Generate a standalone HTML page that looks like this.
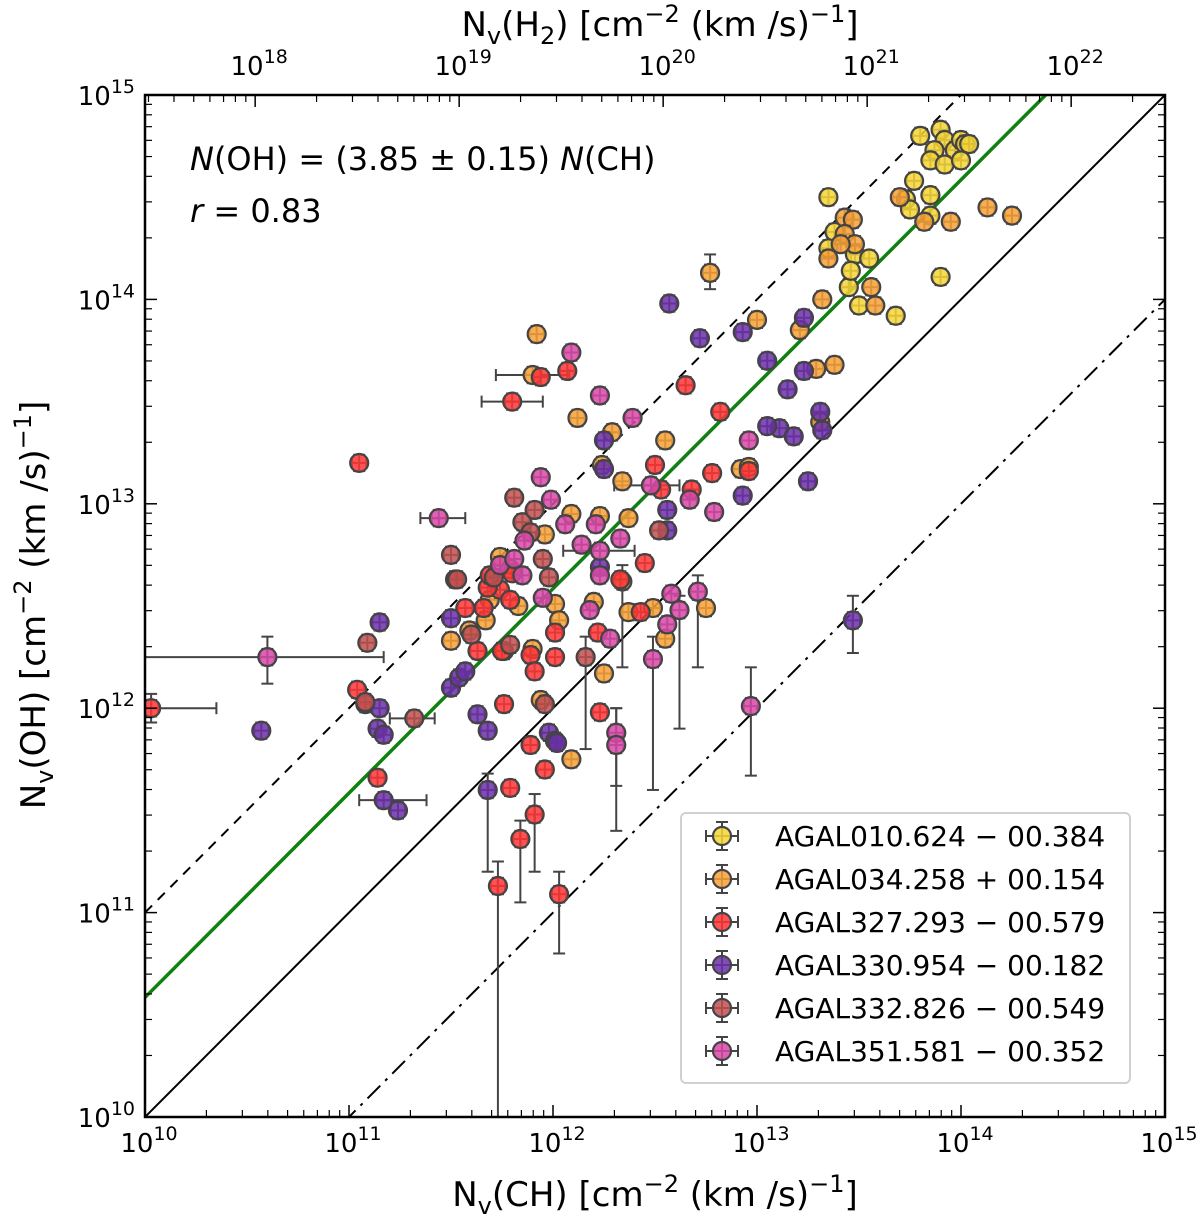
<!DOCTYPE html>
<html><head><meta charset="utf-8"><style>
html,body{margin:0;background:#fff;width:1200px;height:1221px;overflow:hidden}
svg{display:block;font-family:"DejaVu Sans","Liberation Sans",sans-serif}
</style></head><body>
<svg id="chart" width="1200" height="1221" viewBox="0 0 1200 1221" xmlns="http://www.w3.org/2000/svg">
<g id="grid"></g>
<g id="lines"></g>
<g id="pts"></g>
<g id="axes"></g>
<text x="190" y="170" font-size="32"><tspan font-style="italic">N</tspan>(OH) = (3.85 ± 0.15) <tspan font-style="italic">N</tspan>(CH)</text>
<text x="190" y="222" font-size="32"><tspan font-style="italic">r</tspan> = 0.83</text>
<text x="655" y="1206" font-size="34" text-anchor="middle">N<tspan font-size="24" dy="8">v</tspan><tspan dy="-8">(CH) [cm</tspan><tspan font-size="24" dy="-14">−2</tspan><tspan dy="14"> (km /s)</tspan><tspan font-size="24" dy="-14">−1</tspan><tspan dy="14">]</tspan></text>
<text x="660" y="36" font-size="34" text-anchor="middle">N<tspan font-size="24" dy="8">v</tspan><tspan dy="-8">(H</tspan><tspan font-size="24" dy="8">2</tspan><tspan dy="-8">) [cm</tspan><tspan font-size="24" dy="-14">−2</tspan><tspan dy="14"> (km /s)</tspan><tspan font-size="24" dy="-14">−1</tspan><tspan dy="14">]</tspan></text>
<text transform="translate(45,605) rotate(-90)" font-size="34" text-anchor="middle">N<tspan font-size="24" dy="8">v</tspan><tspan dy="-8">(OH) [cm</tspan><tspan font-size="24" dy="-14">−2</tspan><tspan dy="14"> (km /s)</tspan><tspan font-size="24" dy="-14">−1</tspan><tspan dy="14">]</tspan></text>
<g id="legend"></g>
</svg>
<script>
const NS="http://www.w3.org/2000/svg";
const seriesNames=["AGAL010.624−00.384","AGAL034.258+00.154","AGAL327.293−00.579","AGAL330.954−00.182","AGAL332.826−00.549","AGAL351.581−00.352"];
const seriesColors=["#f5d535","#f7a035","#ff3535","#6a2fa8","#c05050","#d848a8"];
const yellowPts=[[13.90,14.83],[13.92,14.78],[13.87,14.73],[13.97,14.73],[13.80,14.80],[14.00,14.78],[13.85,14.68],[13.92,14.66],[14.02,14.76],[14.04,14.76],[14.00,14.68],[13.77,14.58],[13.85,14.51],[13.73,14.49],[13.75,14.44],[13.85,14.41],[13.35,14.50],[13.38,14.33],[13.35,14.25],[13.48,14.22],[13.55,14.20],[13.45,14.06],[13.50,13.97],[13.68,13.92],[13.90,14.11],[13.46,14.14]];
const orangePts=[[13.70,14.50],[13.82,14.38],[13.95,14.38],[14.13,14.45],[14.25,14.41],[13.43,14.40],[13.47,14.39],[13.43,14.32],[13.48,14.27],[13.41,14.27],[13.35,14.20],[13.56,14.06],[13.58,13.97],[12.77,14.13],[13.00,13.90],[13.32,14.00],[13.21,13.85],[13.29,13.66],[13.38,13.68],[13.31,13.40],[11.92,13.83],[11.90,13.63],[12.12,13.42],[12.29,13.35],[12.55,13.31],[12.92,13.17],[12.96,13.18],[12.24,13.19],[12.34,13.11],[12.09,12.95],[12.23,12.94],[12.37,12.93],[11.96,12.85],[12.34,12.62],[11.74,12.74],[11.79,12.68],[11.69,12.53],[11.67,12.43],[11.59,12.38],[11.50,12.33],[11.90,12.29],[12.01,12.51],[11.76,12.28],[11.94,12.04],[12.01,11.84],[12.09,11.75],[11.83,12.50],[12.25,12.17],[12.20,12.52],[12.75,12.49],[12.49,12.49],[12.55,12.34],[12.37,12.47],[12.03,12.43]];
const redPts=[[11.05,13.20],[11.04,12.09],[11.08,12.02],[11.14,11.66],[11.80,13.50],[12.07,13.65],[11.94,13.62],[12.65,13.58],[12.82,13.45],[12.50,13.19],[12.78,13.15],[12.96,13.16],[12.68,13.07],[12.53,13.07],[12.45,12.71],[11.80,12.66],[11.74,12.58],[11.68,12.59],[11.66,12.49],[11.57,12.49],[11.63,12.28],[11.75,12.28],[11.79,12.53],[11.69,12.65],[11.52,12.63],[11.76,12.02],[11.89,12.26],[12.01,12.25],[11.91,12.18],[12.01,12.37],[12.22,12.37],[12.33,12.63],[12.43,12.47],[12.23,11.98],[11.89,11.82],[11.79,11.61],[11.91,11.48],[11.73,11.13],[11.96,11.70],[12.03,11.09],[11.84,11.36],[10.03,12.00]];
const purplePts=[[11.15,12.42],[11.15,12.00],[11.14,11.90],[11.17,11.87],[11.17,11.55],[11.24,11.50],[10.57,11.89],[11.50,12.10],[11.54,12.15],[11.57,12.18],[11.63,11.97],[11.68,11.89],[11.98,11.88],[12.01,11.84],[12.02,11.83],[11.68,11.60],[11.50,12.44],[12.57,13.98],[12.72,13.81],[12.93,13.84],[13.05,13.70],[13.23,13.91],[13.23,13.65],[13.15,13.56],[13.11,13.37],[13.05,13.38],[13.18,13.33],[13.31,13.45],[13.32,13.36],[13.25,13.11],[12.93,13.04],[12.25,13.31],[12.25,13.17],[12.56,12.97],[12.56,12.87],[12.23,12.69],[13.47,12.43]];
const brownPts=[[11.09,12.32],[11.08,12.03],[11.50,12.75],[11.53,12.63],[11.81,13.03],[11.85,12.91],[11.89,12.86],[11.91,12.97],[11.95,12.73],[11.98,12.64],[11.71,12.64],[11.60,12.36],[11.79,12.31],[12.16,12.25],[11.96,12.02],[11.32,11.95],[12.52,12.87]];
const magentaPts=[[10.60,12.25],[11.44,12.93],[11.94,13.13],[11.99,13.02],[12.09,13.74],[12.23,13.53],[12.39,13.42],[12.67,13.02],[12.79,12.96],[12.96,13.31],[12.48,13.09],[12.06,12.90],[12.21,12.90],[12.14,12.80],[12.23,12.77],[11.86,12.82],[11.74,12.70],[11.81,12.73],[11.85,12.65],[11.95,12.54],[12.33,12.83],[12.23,12.65],[12.18,12.48],[12.28,12.34],[12.31,11.88],[12.31,11.82],[12.49,12.24],[12.56,12.41],[12.58,12.56],[12.62,12.48],[12.71,12.57],[12.97,12.01]];
const allSeries=[yellowPts,orangePts,redPts,purplePts,brownPts,magentaPts];
// large error bars: [series, x, y, xlo, xhi, ylo, yhi]
const bigErr=[[2,10.03,12.00,10.03,10.35,11.93,12.07],[5,10.60,12.25,10.0,11.17,12.12,12.35],[2,11.73,11.13,11.73,11.73,10.0,11.25],[5,12.97,12.01,12.97,12.97,11.67,12.20],[3,13.47,12.43,13.47,13.47,12.27,12.55],[5,12.31,11.88,12.31,12.31,11.62,12.00],[5,12.31,11.82,12.31,12.31,11.40,12.00],[2,12.03,11.09,12.03,12.03,10.80,11.2],[4,12.16,12.25,12.16,12.16,11.8,12.35],[3,11.68,11.60,11.68,11.68,11.2,11.68],[2,11.84,11.36,11.84,11.84,11.05,11.45],[2,11.91,11.48,11.91,11.91,11.2,11.58],[5,12.62,12.48,12.62,12.62,11.9,12.55],[5,12.71,12.57,12.71,12.71,12.2,12.65],[5,12.49,12.24,12.49,12.49,11.6,12.35],[1,12.34,12.62,12.34,12.34,12.2,12.70],[4,11.32,11.95,11.2,11.42,11.95,11.95],[0,13.46,14.14,13.46,13.46,14.06,14.22],[5,11.44,12.93,11.35,11.57,12.93,12.93],[1,11.92,13.63,11.72,12.08,13.63,13.63],[2,11.8,13.5,11.65,11.95,13.5,13.5],[3,11.17,11.55,11.05,11.38,11.55,11.55],[5,12.23,12.77,12.05,12.4,12.77,12.77],[5,12.48,13.09,12.3,12.62,13.09,13.09],[1,12.77,14.13,12.77,12.77,14.05,14.22]];
const yFitCoef=[0.585]; // log10(3.85)
const lineOffsets=[1,0,-1];
const xTicks=[10,11,12,13,14,15];
const yTicks=[10,11,12,13,14,15];
const topTicks=[18,19,20,21,22];
const topShift=-7.46;

const X=l=>145+(l-10)*204, Y=l=>1117-(l-10)*204.4;
function mk(tag,attrs,parent){const e=document.createElementNS(NS,tag);for(const k in attrs)e.setAttribute(k,attrs[k]);parent.appendChild(e);return e;}
const gL=document.getElementById('lines'),gP=document.getElementById('pts'),gA=document.getElementById('axes'),gLeg=document.getElementById('legend');
const svg=document.getElementById('chart');
const clip=mk('clipPath',{id:'pc'},svg);mk('rect',{x:145,y:95,width:1020,height:1022},clip);
gL.setAttribute('clip-path','url(#pc)');gP.setAttribute('clip-path','url(#pc)');
const dashes=["10,8","","18,7,3,7"];
lineOffsets.forEach((o,i)=>{
  const l=mk('line',{x1:X(10),y1:Y(10+o),x2:X(15),y2:Y(15+o),stroke:'#000','stroke-width':2,'stroke-dasharray':dashes[i]},gL);
  
  
});
const fit=mk('line',{x1:X(10),y1:Y(10+yFitCoef[0]),x2:X(15),y2:Y(15+yFitCoef[0]),stroke:'#108010','stroke-width':3.5},gL);


function ebar(x,y,xlo,xhi,ylo,yhi,g){
  const s={stroke:'#444','stroke-width':2};
  mk('line',Object.assign({x1:X(xlo),y1:Y(y),x2:X(xhi),y2:Y(y)},s),g);
  mk('line',Object.assign({x1:X(x),y1:Y(ylo),x2:X(x),y2:Y(yhi)},s),g);
  [[X(xlo),Y(y),0],[X(xhi),Y(y),0],[X(x),Y(ylo),1],[X(x),Y(yhi),1]].forEach(([a,b,v])=>{
    if(v) mk('line',Object.assign({x1:a-6,y1:b,x2:a+6,y2:b},s),g); else mk('line',Object.assign({x1:a,y1:b-6,x2:a,y2:b+6},s),g);
  });
}
bigErr.forEach(e=>{const g=mk('g',{},gP);


ebar(e[1],e[2],e[3],e[4],e[5],e[6],g);});
allSeries.forEach((pts,si)=>{
  const g=mk('g',{},gP);
  
  
  pts.forEach(p=>{
    ebar(p[0],p[1],p[0]-0.035,p[0]+0.035,p[1]-0.04,p[1]+0.04,g);
    const c=mk('circle',{cx:X(p[0]),cy:Y(p[1]),r:9,fill:seriesColors[si],'fill-opacity':0.85,stroke:'#444','stroke-width':2.2},g);
    
    
  });
});
const frame=mk('rect',{x:145,y:95,width:1020,height:1022,fill:'none',stroke:'#000','stroke-width':2.5},gA);


function sup(x,y,base,exp,name,anchor){
  const t=mk('text',{x:x,y:y,'font-size':26,'text-anchor':anchor||'middle'},gA);
  
  
  t.innerHTML=base+'<tspan font-size="19" dy="-12">'+exp+'</tspan>';
}
const minors=[2,3,4,5,6,7,8,9].map(m=>Math.log10(m));
xTicks.forEach(t=>{
  const x=X(t);
  mk('line',{x1:x,y1:1117,x2:x,y2:1105,stroke:'#000','stroke-width':1.5},gA);
  sup(x+4,1152,'10',t,'x-tick-label');
  if(t<15) minors.forEach(m=>{const xm=X(t+m);mk('line',{x1:xm,y1:1117,x2:xm,y2:1110,stroke:'#000','stroke-width':1.2},gA);});
});
yTicks.forEach(t=>{
  const y=Y(t);
  mk('line',{x1:145,y1:y,x2:157,y2:y,stroke:'#000','stroke-width':1.5},gA);
  mk('line',{x1:1165,y1:y,x2:1153,y2:y,stroke:'#000','stroke-width':1.5},gA);
  sup(135,y+10,'10',t,'y-tick-label','end');
  if(t<15) minors.forEach(m=>{const ym=Y(t+m);
    mk('line',{x1:145,y1:ym,x2:152,y2:ym,stroke:'#000','stroke-width':1.2},gA);
    mk('line',{x1:1165,y1:ym,x2:1158,y2:ym,stroke:'#000','stroke-width':1.2},gA);});
});
for(let t=17;t<=23;t++){
  const base=t+topShift;
  if(topTicks.includes(t)){const x=X(base);mk('line',{x1:x,y1:95,x2:x,y2:107,stroke:'#000','stroke-width':1.5},gA);sup(x+4,75,'10',t,'top-tick-label');}
  minors.forEach(m=>{const l=base+m;if(l>10&&l<15){const x=X(l);mk('line',{x1:x,y1:95,x2:x,y2:102,stroke:'#000','stroke-width':1.2},gA);}});
}
mk('rect',{x:681,y:813,width:449,height:270,rx:5,fill:'#fff','fill-opacity':0.85,stroke:'#d0d0d0','stroke-width':2},gLeg);
seriesNames.forEach((n,i)=>{
  const y=836+i*43;
  const g=mk('g',{},gLeg);
  
  
  const s={stroke:'#444','stroke-width':2};
  mk('line',Object.assign({x1:706,y1:y,x2:738,y2:y},s),g);
  mk('line',Object.assign({x1:722,y1:y-14,x2:722,y2:y+14},s),g);
  mk('line',Object.assign({x1:706,y1:y-6,x2:706,y2:y+6},s),g);
  mk('line',Object.assign({x1:738,y1:y-6,x2:738,y2:y+6},s),g);
  mk('line',Object.assign({x1:716,y1:y-14,x2:728,y2:y-14},s),g);
  mk('line',Object.assign({x1:716,y1:y+14,x2:728,y2:y+14},s),g);
  mk('circle',{cx:722,cy:y,r:9,fill:seriesColors[i],'fill-opacity':0.85,stroke:'#444','stroke-width':2.2},g);
  const t=mk('text',{x:775,y:y+10,'font-size':28},g);
  t.textContent=n.replace('−',' − ').replace('+',' + ');
});
</script>
</body></html>
